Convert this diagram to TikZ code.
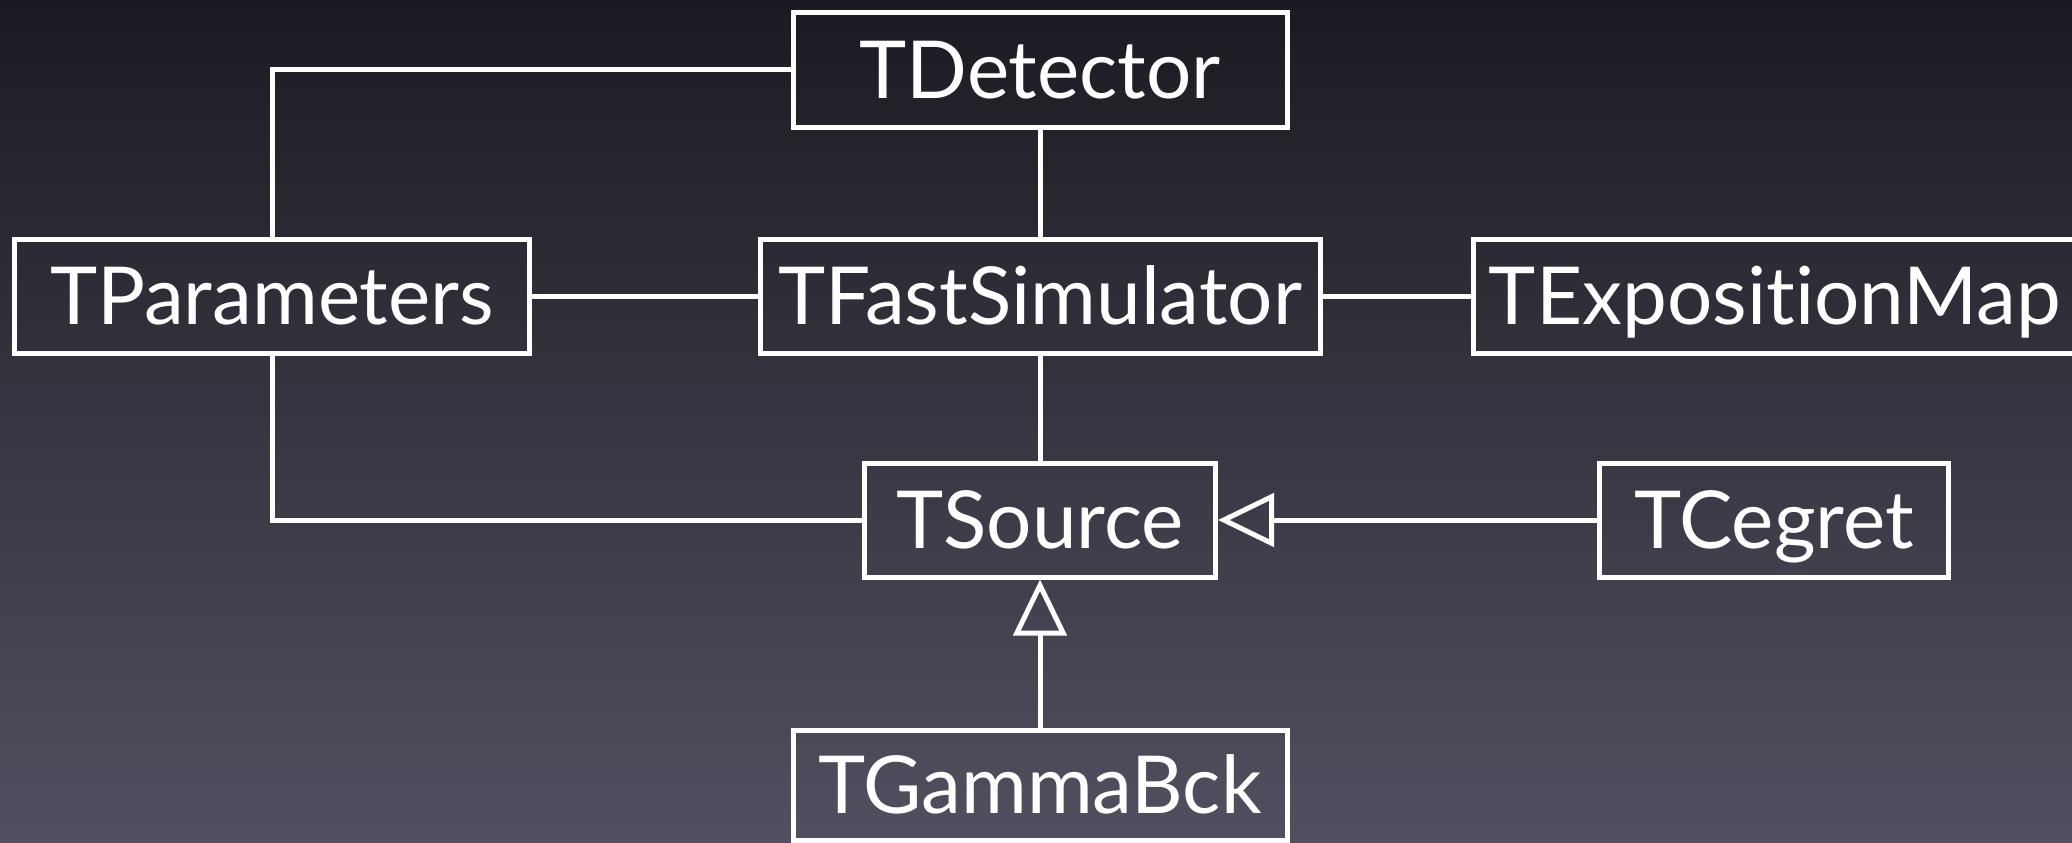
\documentclass[tikz,border=0pt]{standalone}
\usepackage{fontspec}
\setmainfont{Lato}[Ligatures=NoCommon]
\usetikzlibrary{arrows.meta}
\definecolor{bgtop}{RGB}{26,27,34}
\definecolor{bgbot}{RGB}{82,80,96}
\tikzset{
  cls/.style={draw=white, line width=5pt, text=white, inner sep=0pt,
    font=\fontsize{80}{80}\selectfont, text height=57pt, text depth=0pt,
    minimum height=114pt},
  link/.style={draw=white, line width=5pt},
  inherit/.style={link, -{Triangle[open, length=56pt, width=53pt, line join=miter]}}
}
\begin{document}
\begin{tikzpicture}[x=1pt,y=-1pt]
\useasboundingbox (0,0) rectangle (2072,843);
\shade[top color=bgtop, bottom color=bgbot] (0,0) rectangle (2072,843);
\node[cls, minimum width=494pt] (det) at (1040,70) {TDetector};
\node[cls, minimum width=515pt] (par) at (272,296) {TParameters};
\node[cls, minimum width=560pt] (sim) at (1040,296) {TFastSimulator};
\node[cls, minimum width=604pt] (exp) at (1775,296) {TExpositionMap};
\node[cls, minimum width=351pt] (src) at (1040,520) {TSource};
\node[cls, minimum width=349pt] (ceg) at (1774,520) {TCegret};
\node[cls, minimum width=494pt, minimum height=110pt] (gam) at (1040,785) {TGammaBck};
\draw[link] (par.north) |- (det.west);
\draw[link] (par.east) -- (sim.west);
\draw[link] (det.south) -- (sim.north);
\draw[link] (sim.east) -- (exp.west);
\draw[link] (sim.south) -- (src.north);
\draw[link] (par.south) |- (src.west);
\draw[inherit] (ceg.west) -- (src.east);
\draw[inherit] (gam.north) -- (src.south);
\end{tikzpicture}
\end{document}
